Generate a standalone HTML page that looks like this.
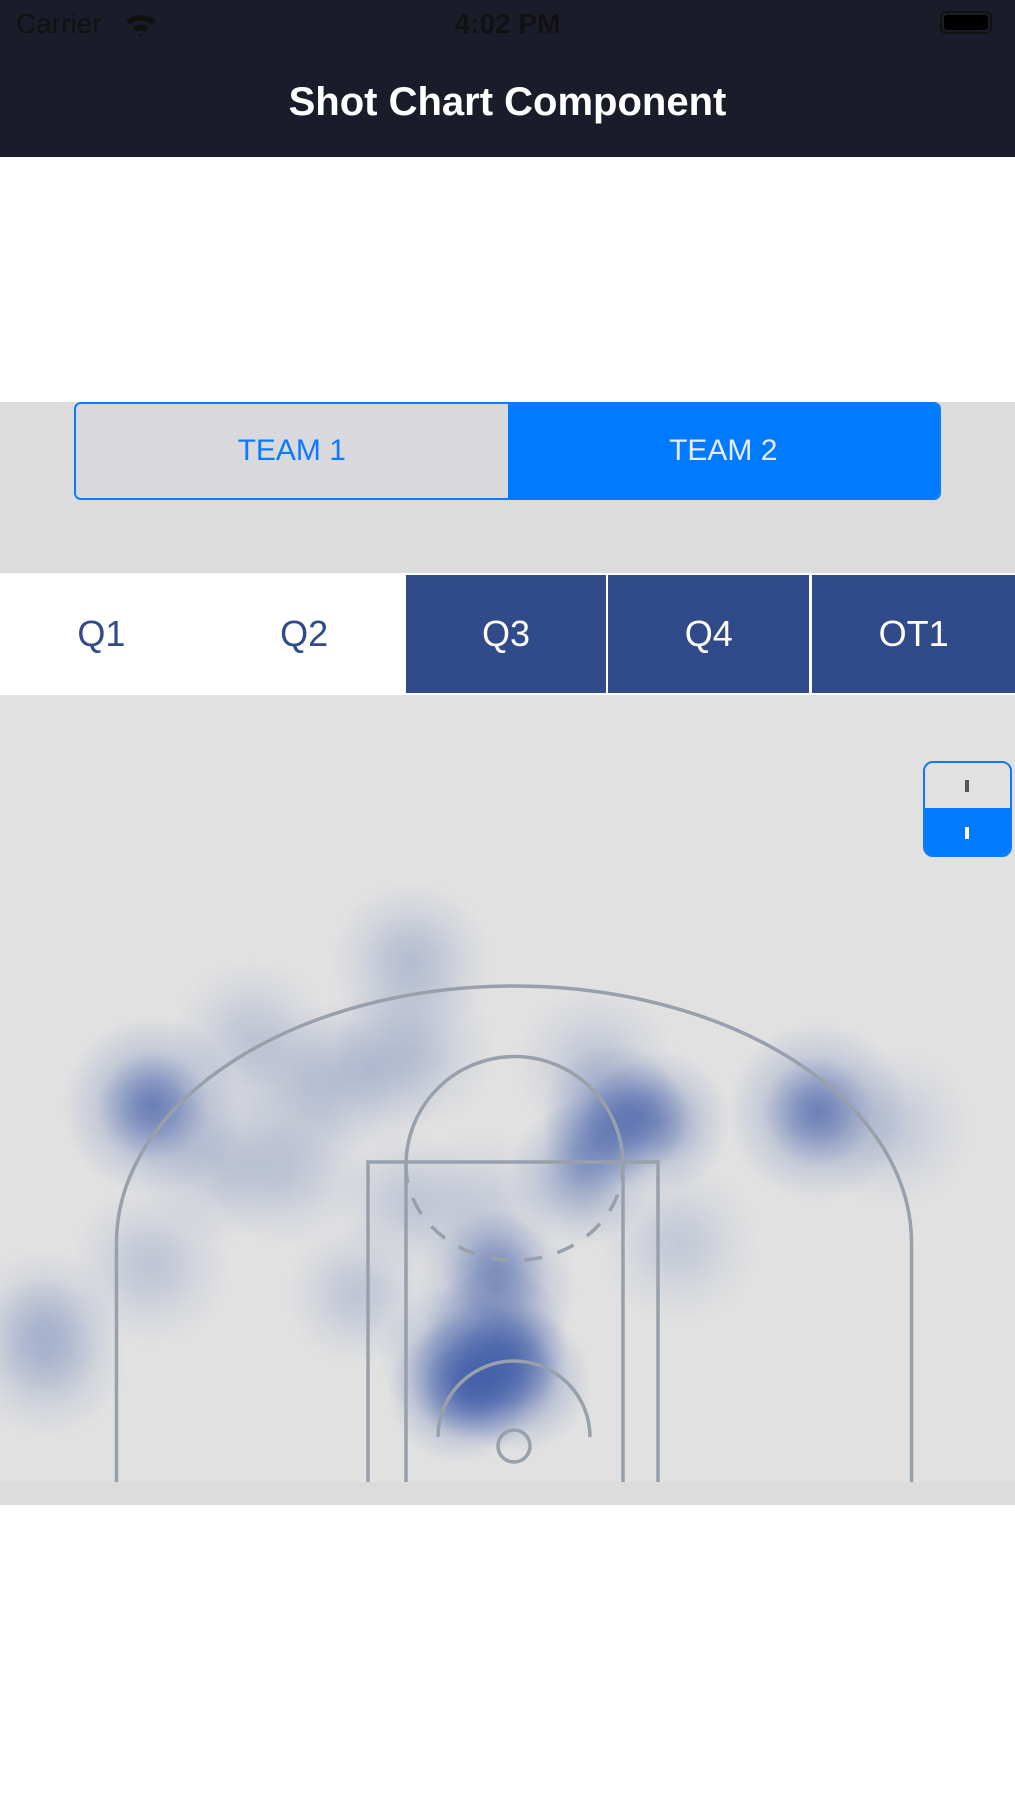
<!DOCTYPE html>
<html><head><meta charset="utf-8">
<style>
html,body{margin:0;padding:0;width:1015px;height:1805px;overflow:hidden;background:#fff;font-family:"Liberation Sans",sans-serif;}
.abs{position:absolute;}
</style></head>
<body>
<div class="abs" style="left:0;top:0;width:1015px;height:157px;background:#1a1d29;"></div>
<div class="abs" style="left:16px;top:8px;font-size:28px;color:#111;">Carrier</div>
<svg class="abs" style="left:124px;top:12px" width="34" height="26" viewBox="0 0 34 26"><path d="M2 9 A22 22 0 0 1 32 9 L28 13 A16 16 0 0 0 6 13Z M9 16 A11 11 0 0 1 25 16 L21 20 A5 5 0 0 0 13 20Z M15 23 L17 25 L19 23 A3 3 0 0 0 15 23Z" fill="#111"/></svg>
<div class="abs" style="left:0;width:1015px;text-align:center;top:8px;font-size:28px;color:#111;font-weight:bold;">4:02 PM</div>
<div class="abs" style="left:940px;top:11px;width:52px;height:23px;border:2px solid #111;border-radius:6px;box-sizing:border-box;padding:2px;"><div style="width:100%;height:100%;background:#000;border-radius:3px;"></div></div>
<div class="abs" style="left:0;width:1015px;text-align:center;top:80px;font-size:40px;font-weight:bold;color:#fff;">Shot Chart Component</div>

<div class="abs" style="left:0;top:402px;width:1015px;height:171px;background:#dcdcdc;"></div>
<div class="abs" style="left:74px;top:402px;width:867px;height:98px;border:2px solid #0a7aff;border-radius:7px;box-sizing:border-box;overflow:hidden;display:flex;">
  <div style="flex:1;background:#d9d9dd;color:#0a7aff;font-size:30px;display:flex;align-items:center;justify-content:center;">TEAM 1</div>
  <div style="flex:1;background:#007aff;color:#e6ecf5;font-size:30px;display:flex;align-items:center;justify-content:center;">TEAM 2</div>
</div>

<div class="abs" style="left:0;top:573px;width:1015px;height:122px;display:flex;background:#fff;">
  <div style="width:203px;color:#304a8a;font-size:36px;display:flex;align-items:center;justify-content:center;">Q1</div>
  <div style="width:203px;color:#304a8a;font-size:36px;display:flex;align-items:center;justify-content:center;">Q2</div>
  <div style="width:201px;margin:2px 1px 2px 0;background:#304a8a;color:#fff;font-size:36px;display:flex;align-items:center;justify-content:center;">Q3</div>
  <div style="width:201px;margin:2px 2px 2px 1px;background:#304a8a;color:#fff;font-size:36px;display:flex;align-items:center;justify-content:center;">Q4</div>
  <div style="width:203px;margin:2px 0 2px 1px;background:#304a8a;color:#fff;font-size:36px;display:flex;align-items:center;justify-content:center;">OT1</div>
</div>

<svg class="abs" id="court" style="left:0;top:695px" width="1015" height="810" viewBox="0 695 1015 810">
  <defs>
    <radialGradient id="g"><stop offset="0" stop-color="#3a57a5" stop-opacity="1"/><stop offset="0.3" stop-color="#3a57a5" stop-opacity="0.75"/><stop offset="0.65" stop-color="#3d5aa8" stop-opacity="0.3"/><stop offset="1" stop-color="#3d5aa8" stop-opacity="0"/></radialGradient>
  </defs>
  <rect x="0" y="695" width="1015" height="810" fill="#e1e1e1"/>
  <rect x="0" y="1482" width="1015" height="23" fill="#dcdcdc"/>
  <g id="heat"></g>
  <g id="lines" fill="none" stroke="#98a0ab" stroke-width="3.5"></g>
</svg>

<div class="abs" style="left:923px;top:761px;width:89px;height:96px;border:2px solid #0a7aff;border-radius:10px;box-sizing:border-box;overflow:hidden;">
  <div style="height:45px;background:#e1e1e1;position:relative;"><div style="position:absolute;left:40px;top:17px;width:4px;height:12px;background:#555;"></div></div>
  <div style="height:49px;background:#007aff;position:relative;"><div style="position:absolute;left:40px;top:19px;width:4px;height:12px;background:#fff;"></div></div>
</div>

<script>
// Shot density hotspots in court feet (x: left/right of hoop, y: distance up from hoop)
const shotX = [-1.7,-3.0,0.3,-1.0,-1.0,-20.0,3.7,5.5,8.0,16.8,-5.7,-11.2,-8.1,-5.5,-16.3,-12.5,-20.1,-25.9,-26.0,-8.7,9.1,20.9,-3.5,-2.0,4.5,-6.0,-14.5,-2.0,0.0,4.6,6.8,16.8,-20.0,-1.0];
const shotY = [3.9,3.0,3.6,6.0,8.7,18.8,15.0,18.3,17.9,18.5,26.8,19.8,20.8,22.0,15.7,15.4,10.0,4.9,7.0,8.4,11.2,17.6,5.0,13.0,21.0,13.5,22.5,3.4,5.0,16.8,18.2,18.5,18.8,10.0];
const shotWeight = [1.0,0.9,0.85,0.8,0.7,0.85,0.75,0.8,0.75,0.8,0.45,0.35,0.35,0.35,0.35,0.35,0.35,0.45,0.35,0.35,0.3,0.3,0.6,0.3,0.35,0.3,0.35,0.9,0.8,0.7,0.7,0.7,0.7,0.6];
const shotRadius = [4,4,4,4,4.5,5,4,4,4,5,4.5,4.5,4.5,4.5,4.5,4.5,4.5,4.5,4,4,4.5,4.5,4,4.5,4.5,4,4.5,3,3,3,3,3,3,3];

const PX = 18.07, HX = 514, HY = 1446;
const sx = v => HX + v*PX;
const sy = v => HY - v*PX;
const NS = "http://www.w3.org/2000/svg";
const heat = document.getElementById('heat');
for (let i=0;i<shotX.length;i++){
  const c = document.createElementNS(NS,'circle');
  
  
  c.setAttribute('cx', sx(shotX[i]));
  c.setAttribute('cy', sy(shotY[i]));
  c.setAttribute('r', shotRadius[i]*PX);
  c.setAttribute('fill','url(#g)');
  c.setAttribute('opacity', shotWeight[i]*0.6);
  heat.appendChild(c);
}
const L = document.getElementById('lines');
function add(tag, attrs, name){
  const e = document.createElementNS(NS, tag);
  for (const k in attrs) e.setAttribute(k, attrs[k]);
  
  
  L.appendChild(e);
}
const base = 1482;
const rArcX = sx(22)-HX;
add('path',{d:`M${sx(-22)} ${base} L${sx(-22)} 1243 A ${rArcX} ${1243-986} 0 0 1 ${sx(22)} 1243 L${sx(22)} ${base}`},'three-point-line');
add('path',{d:`M368 ${base} L368 1162 L658 1162 L658 ${base}`},'outer-key');
add('path',{d:`M406 ${base} L406 1165 M623 ${base} L623 1165`},'inner-key');
add('path',{d:`M406 1165 A108 108 0 0 1 623 1165`},'free-throw-arc');
add('path',{d:`M406 1165 A108 95 0 0 0 623 1165`,'stroke-dasharray':'18 16'},'free-throw-dashed-arc');
add('path',{d:`M438 1437 A76 76 0 0 1 590 1437`},'restricted-area');
add('circle',{cx:514,cy:1446,r:16},'rim');
</script>
</body></html>
